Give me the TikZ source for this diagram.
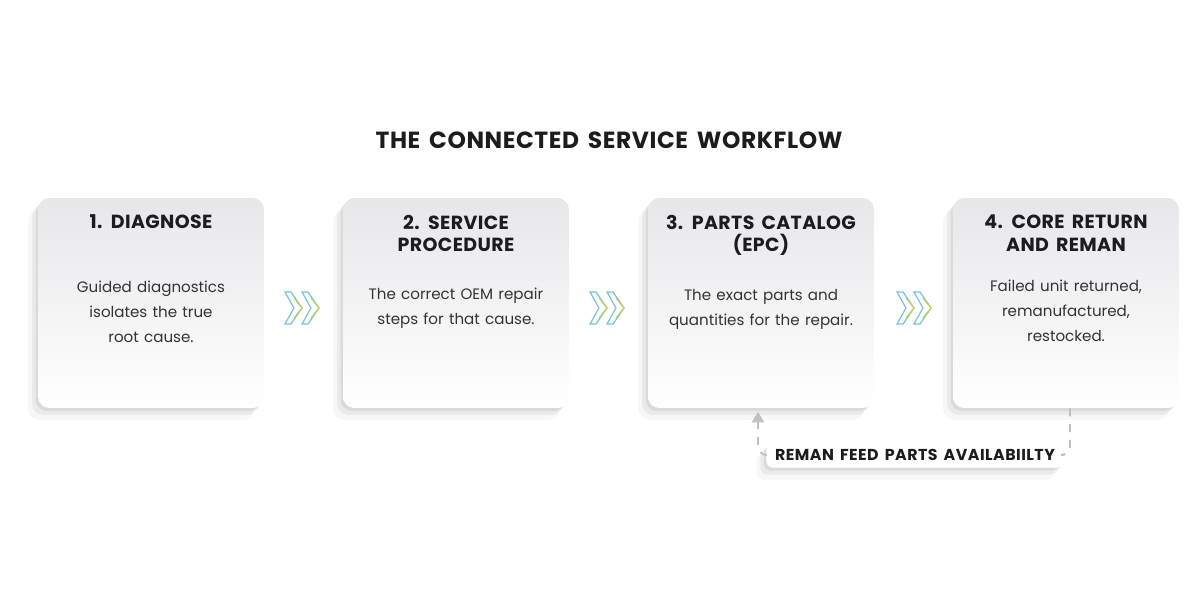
\documentclass[tikz,border=0pt]{standalone}
\usepackage{fontspec}
\setmainfont{Poppins}
\newfontfamily\titlefont{Poppins}[LetterSpace=2.5,WordSpace=1.6]
\newfontfamily\headfont{Poppins}[LetterSpace=2,WordSpace=1.6]
\newfontfamily\labelfont{Poppins}[LetterSpace=3,WordSpace=1.6]
\newfontfamily\bodyfont{Poppins}[WordSpace=1.3]
\usetikzlibrary{positioning,shadows,arrows.meta}

\definecolor{cardtop}{RGB}{231,231,234}
\definecolor{ink}{RGB}{28,28,30}
\definecolor{chevblue}{RGB}{120,196,214}
\definecolor{chevgreen}{RGB}{196,208,96}
\definecolor{feedgray}{RGB}{192,192,195}

\tikzset{
  softshadow/.style={
    drop shadow={shadow xshift=-0.05cm, shadow yshift=-0.06cm, opacity=.07, fill=black},
    drop shadow={shadow xshift=-0.12cm, shadow yshift=-0.14cm, opacity=.05, fill=black},
    drop shadow={shadow xshift=-0.20cm, shadow yshift=-0.24cm, opacity=.03, fill=black}},
  card/.style={rounded corners=6.5pt, minimum width=4.52cm, minimum height=4.2cm,
    top color=cardtop, bottom color=white, draw=none, softshadow},
  head/.style={text=ink, font=\headfont\fontsize{10.8}{13}\selectfont\bfseries,
    align=center, anchor=north},
  body/.style={text=ink!90, font=\bodyfont\fontsize{8.6}{14.2}\selectfont, align=center},
  title/.style={text=ink, font=\titlefont\fontsize{13.3}{15}\selectfont\bfseries},
  feedlabel/.style={fill=white, rounded corners=4pt, text=ink, inner xsep=5pt, inner ysep=4pt,
    font=\labelfont\fontsize{9}{10}\selectfont\bfseries, softshadow},
  feedline/.style={draw=feedgray, line width=1.1pt, dash pattern=on 4.5pt off 4.5pt, rounded corners=5pt},
  chev/.style={draw=chevblue, line width=.7pt, line join=miter},
  chevtip/.style={draw=chevgreen, line width=.7pt}
}

\begin{document}
\begin{tikzpicture}[x=0.02cm, y=-0.02cm]
\useasboundingbox (0,0) rectangle (1200,600);

\node[title] (title) at (609,140) {THE CONNECTED SERVICE WORKFLOW};

% the four cards
\node[card] (diag) at (151,303) {};
\node[card] (proc) at (456,303) {};
\node[card] (epc)  at (761,303) {};
\node[card] (core) at (1066,303) {};

\node[head] (diaghead) at ([yshift=-0.22cm]diag.north) {1. DIAGNOSE};
\node[head] (prochead) at ([yshift=-0.22cm]proc.north) {2. SERVICE\\PROCEDURE};
\node[head] (epchead)  at ([yshift=-0.22cm]epc.north)  {3. PARTS CATALOG\\(EPC)};
\node[head] (corehead) at ([yshift=-0.22cm]core.north) {4. CORE RETURN\\AND REMAN};

\node[body] (diagbody) at (151,312) {Guided diagnostics\\isolates the true\\root cause.};
\node[body] (procbody) at (456,308.5) {The correct OEM repair\\steps for that cause.};
\node[body] (epcbody)  at (761,309.5) {The exact parts and\\quantities for the repair.};
\node[body] (corebody) at (1066,311) {Failed unit returned,\\remanufactured,\\restocked.};

% double chevrons between cards
\foreach \cx in {303,608,915} {
  \foreach \dx in {0,17} {
    \draw[chev] (\cx-18+\dx,292) -- (\cx-12+\dx,292) -- (\cx-1+\dx,308) -- (\cx-12+\dx,324)
      -- (\cx-18+\dx,324) -- (\cx-9+\dx,308) -- cycle;
    \draw[chevtip] (\cx-9+\dx,298) -- (\cx-1+\dx,308) -- (\cx-9+\dx,318);
  }
}

% feedback loop
\node[feedlabel] (feed) at (915,455) {REMAN FEED PARTS AVAILABIILTY};
\draw[feedline] ([xshift=0.08cm]core.south) |- (feed.east);
\draw[feedline, -{Triangle[length=6pt,width=7pt]}, shorten >=2pt] (feed.west) -| ([xshift=-0.06cm]epc.south);

\end{tikzpicture}
\end{document}
